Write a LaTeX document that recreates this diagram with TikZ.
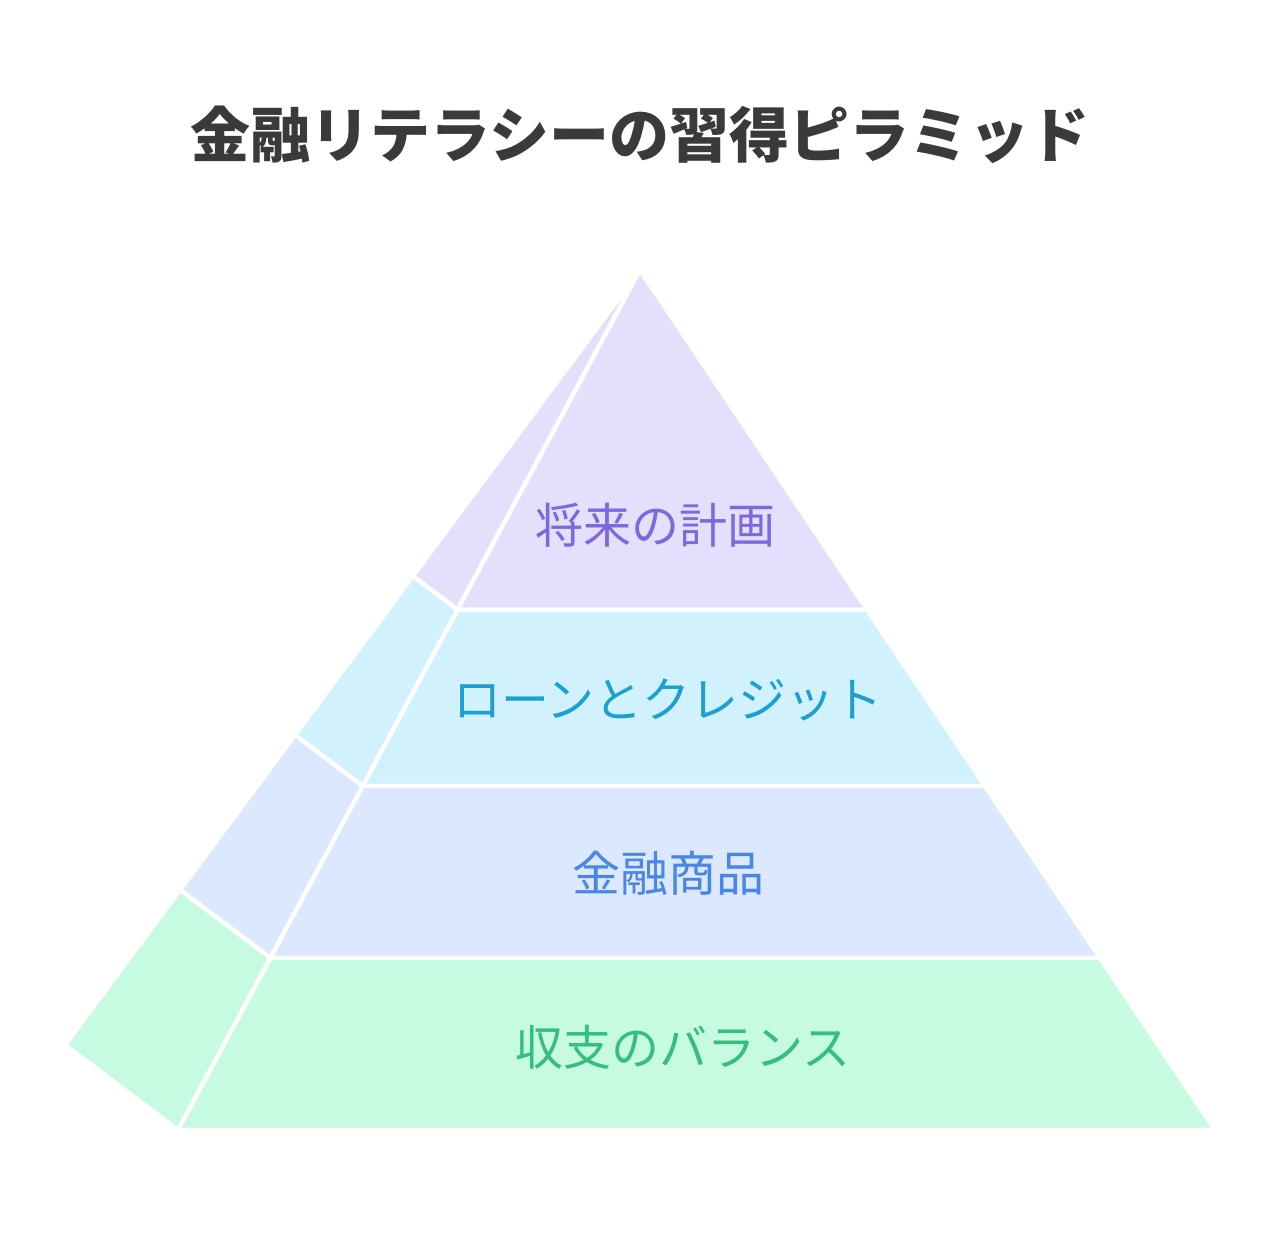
\documentclass[tikz,border=0pt]{standalone}
\usepackage{fontspec}
\usetikzlibrary{calc}
\newfontfamily\jpfont{Noto Sans CJK JP}
\definecolor{titlegray}{HTML}{3A3A3A}
\definecolor{purpfill}{HTML}{E5DFFC}
\definecolor{purptext}{HTML}{7C68DF}
\definecolor{cyanfill}{HTML}{D1F2FC}
\definecolor{cyantext}{HTML}{1E9FD2}
\definecolor{bluefill}{HTML}{DCE8FD}
\definecolor{bluetext}{HTML}{4A86E4}
\definecolor{mintfill}{HTML}{C6FBE1}
\definecolor{minttext}{HTML}{36BE7C}
\begin{document}
\begin{tikzpicture}[x=0.5pt,y=-0.5pt,
    slab/.style={draw=white,line width=2.2pt,line join=round},
    lbl/.style={font=\jpfont\fontsize{24}{24}\selectfont,anchor=center}]
    \useasboundingbox (0,0) rectangle (1280,1251);
          \coordinate (apex) at (640,270);
          \coordinate (back) at (65,1045);
          \coordinate (fl) at (178,1130);
          \coordinate (fr) at (1215,1130);
          % side face and front face, one slab per level
          \foreach \ta/\tb/\col in {0/0.395/purpfill,0.395/0.6/cyanfill,0.6/0.8/bluefill,0.8/1/mintfill}{
            \filldraw[slab,fill=\col] ($(apex)!\ta!(back)$) -- ($(apex)!\tb!(back)$) -- ($(apex)!\tb!(fl)$) -- ($(apex)!\ta!(fl)$) -- cycle;
            \filldraw[slab,fill=\col] ($(apex)!\ta!(fl)$) -- ($(apex)!\tb!(fl)$) -- ($(apex)!\tb!(fr)$) -- ($(apex)!\ta!(fr)$) -- cycle;
          }
          \node[font=\jpfont\bfseries\fontsize{30}{30}\selectfont,text=titlegray] (title) at (640,135) {金融リテラシーの習得ピラミッド};
          \node[lbl,text=purptext] (plan) at (655,525) {将来の計画};
          \node[lbl,text=cyantext] (loan) at (668,700) {ローンとクレジット};
          \node[lbl,text=bluetext] (product) at (668,873) {金融商品};
          \node[lbl,text=minttext] (balance) at (683,1047) {収支のバランス};
          %\node at (640,1200) {};
        \end{tikzpicture}
\end{document}
